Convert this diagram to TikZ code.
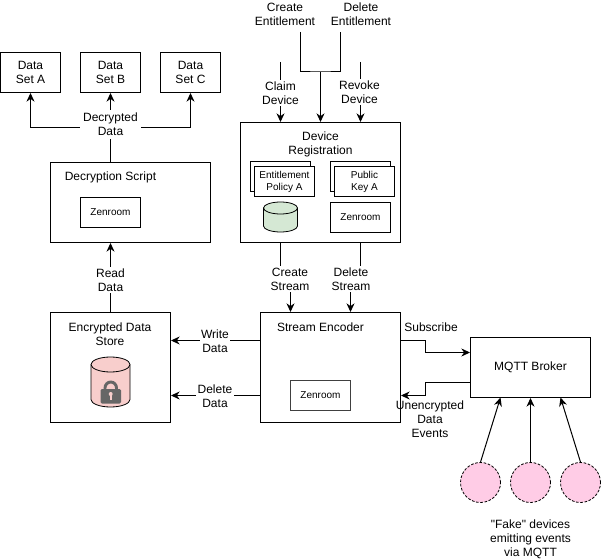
\documentclass[tikz,border=0pt]{standalone}
\usepackage{fontspec}
\setmainfont{Liberation Sans}
\newfontfamily\plainq{Liberation Sans}
\usetikzlibrary{arrows.meta}
\definecolor{pinkfill}{HTML}{F8CECC}
\definecolor{greenfill}{HTML}{D5E8D4}
\definecolor{devfill}{HTML}{FFCCE6}
\tikzset{
  every node/.style={font=\fontsize{9}{10.5}\selectfont,align=center,inner sep=1pt},
  frame/.style={draw=black,line width=0.75pt,inner sep=0pt},
  conn/.style={draw=black,line width=0.75pt},
  arr/.style={conn,-{Stealth[length=6.5pt,width=6pt]}},
  lbl/.style={fill=white},
  small/.style={font=\fontsize{7.5}{9}\selectfont},
  cyl/.style={draw=black,line width=0.6pt},
  fake/.style={circle,draw=black,dash pattern=on 2pt off 1.2pt,line width=0.6pt,fill=devfill,minimum size=30pt,inner sep=0pt},
}
\newcommand{\lowered}[1]{\raisebox{-0.75pt}{#1}}
\begin{document}
\begin{tikzpicture}[x=0.75pt,y=0.75pt]
\useasboundingbox (0,0) rectangle (602,-559);
% top boxes
\node[frame,minimum width=45pt,minimum height=30pt] (dsa) at (30.5,-72.5) {Data\\Set A};
\node[frame,minimum width=45pt,minimum height=30pt] (dsb) at (110.5,-72.5) {Data\\Set B};
\node[frame,minimum width=45pt,minimum height=30pt] (dsc) at (190.5,-72.5) {Data\\Set C};
% decryption script
\node[frame,minimum width=120pt,minimum height=60pt] (dec) at (130.5,-202.5) {};
\node (dect) at (110.5,-177.5) {Decryption Script};
\node[frame,minimum width=45pt,minimum height=22.5pt,small] (zen1) at (110.5,-212.5) {\lowered{Zenroom}};
% encrypted store
\node[frame,minimum width=90pt,minimum height=82.5pt] (store) at (110.5,-367.5) {};
\node (storet) at (110,-334) {Encrypted Data\\Store};
% pink cylinder
\path[cyl,fill=pinkfill] (91,-364.5) -- (91,-399.5) arc[start angle=180,end angle=360,x radius=19.5,y radius=7.5] -- (130,-364.5) arc[start angle=0,end angle=180,x radius=19.5,y radius=7.5] -- cycle;
\draw[cyl] (91,-364.5) arc[start angle=180,end angle=360,x radius=19.5,y radius=7.5];
% lock
\draw[draw=black!60,line width=2.2pt] (105,-391) -- (105,-388) arc[start angle=180,end angle=0,x radius=5.75,y radius=6] -- (116.5,-391);
\path[fill=black!60,rounded corners=1pt] (100.5,-389) rectangle (121,-403.5);
\path[fill=pinkfill] (110.7,-394) circle[radius=2];
\path[fill=pinkfill] (109.8,-394) rectangle (111.6,-400);
% stream encoder
\node[frame,minimum width=105pt,minimum height=82.5pt] (enc) at (330.5,-367.5) {};
\node (enct) at (320.5,-327) {Stream Encoder};
\node[frame,draw=black!75,minimum width=45pt,minimum height=22.5pt,small] (zen3) at (320.5,-395) {\lowered{Zenroom}};
% broker
\node[frame,minimum width=90pt,minimum height=45pt] (mqtt) at (530.5,-367.5) {\lowered{MQTT Broker}};
% device registration
\node[frame,minimum width=120pt,minimum height=90pt] (reg) at (320.5,-182.5) {};
\node (regt) at (320.5,-144) {Device\\Registration};
\node[frame,fill=white,minimum width=45pt,minimum height=22.5pt] (epb) at (280.5,-177) {};
\node[frame,fill=white,minimum width=45.5pt,minimum height=22.5pt,small] (epf) at (284.5,-181.5) {Entitlement\\Policy A};
\node[frame,fill=white,minimum width=45pt,minimum height=22.5pt] (pkb) at (360.5,-177) {};
\node[frame,fill=white,minimum width=45.5pt,minimum height=22.5pt,small] (pkf) at (364.5,-181.5) {Public\\Key A};
\node[frame,minimum width=45pt,minimum height=22.5pt,small] (zen2) at (360.5,-217.5) {\lowered{Zenroom}};
% green cylinder
\path[cyl,fill=greenfill] (263.5,-208) -- (263.5,-226) arc[start angle=180,end angle=360,x radius=17,y radius=6] -- (297.5,-208) arc[start angle=0,end angle=180,x radius=17,y radius=6] -- cycle;
\draw[cyl] (263.5,-208) arc[start angle=180,end angle=360,x radius=17,y radius=6];
% top labels and connectors
\coordinate (ce) at (300.5,-32);
\coordinate (de) at (340.5,-32);
\coordinate (j) at (320.5,-72);
\coordinate (cd) at (280.5,-62);
\coordinate (rd) at (360.5,-62);
\node (cet) at (285,-14) {Create\\Entitlement};
\node (det) at (361,-14) {Delete\\Entitlement};
\draw[conn] (ce) |- (j) -| (de);
\draw[arr] (j) -- (j |- reg.north);
\draw[arr] (cd) -- (cd |- reg.north);
\node[lbl] (cdt) at (280.5,-93) {Claim\\Device};
\draw[arr] (rd) -- (rd |- reg.north);
\node[lbl] (rdt) at (359.5,-92) {Revoke\\Device};
% reg to encoder
\coordinate (cs) at (290.5,-277);
\coordinate (ds) at (350.5,-277);
\draw[arr] (cd |- reg.south) |- (cs) -- (cs |- enc.north);
\draw[arr] (rd |- reg.south) |- (ds) -- (ds |- enc.north);
\node[lbl] (cst) at (290,-279) {Create\\Stream};
\node[lbl] (dst) at (351,-279) {Delete\\Stream};
% read data
\draw[arr] (110.5,-312) coordinate (rs) -- (rs |- dec.south);
\node[lbl] (rdd) at (110.5,-280) {Read\\Data};
% decrypted data
\coordinate (dj) at (110.5,-127.5);
\draw[arr] (dj |- dec.north) -- (dj |- dsb.south);
\draw[arr] (dj) -| (dsa.south);
\draw[arr] (dj) -| (dsc.south);
\node[lbl,inner sep=2pt] (decd) at (110.5,-124.5) {Decrypted\\Data};
% write / delete data
\coordinate (wd) at (enc.west |- 0,-340.5);
\coordinate (dd) at (enc.west |- 0,-395.5);
\draw[arr] (wd) -- (wd -| store.east);
\node[lbl] (wdt) at (215,-341.5) {Write\\Data};
\draw[arr] (dd) -- (dd -| store.east);
\node[lbl] (ddt) at (215,-396.5) {Delete\\Data};
% MQTT
\draw[arr] (enc.east |- 0,-340.5) -- (425.5,-340.5) -- (425.5,-352.5) -- (mqtt.west |- 0,-352.5);
\node (subt) at (431,-327.5) {Subscribe};
\draw[arr] (mqtt.west |- 0,-382.5) -- (425.5,-382.5) -- (425.5,-395.5) -- (enc.east |- 0,-395.5);
\node (unt) at (430,-419) {Unencrypted\\Data\\Events};
% fake devices
\node[fake] (f1) at (480.5,-482.5) {};
\node[fake] (f2) at (530.5,-482.5) {};
\node[fake] (f3) at (580.5,-482.5) {};
\draw[arr] (f1.north) -- (500.5,-397.5);
\draw[arr] (f2.north) -- (f2.north |- mqtt.south);
\draw[arr] (f3.north) -- (560.5,-397.5);
\node (ft) at (530.5,-539) {{\plainq"}Fake{\plainq"} devices\\emitting events\\via MQTT};
\end{tikzpicture}
\end{document}
